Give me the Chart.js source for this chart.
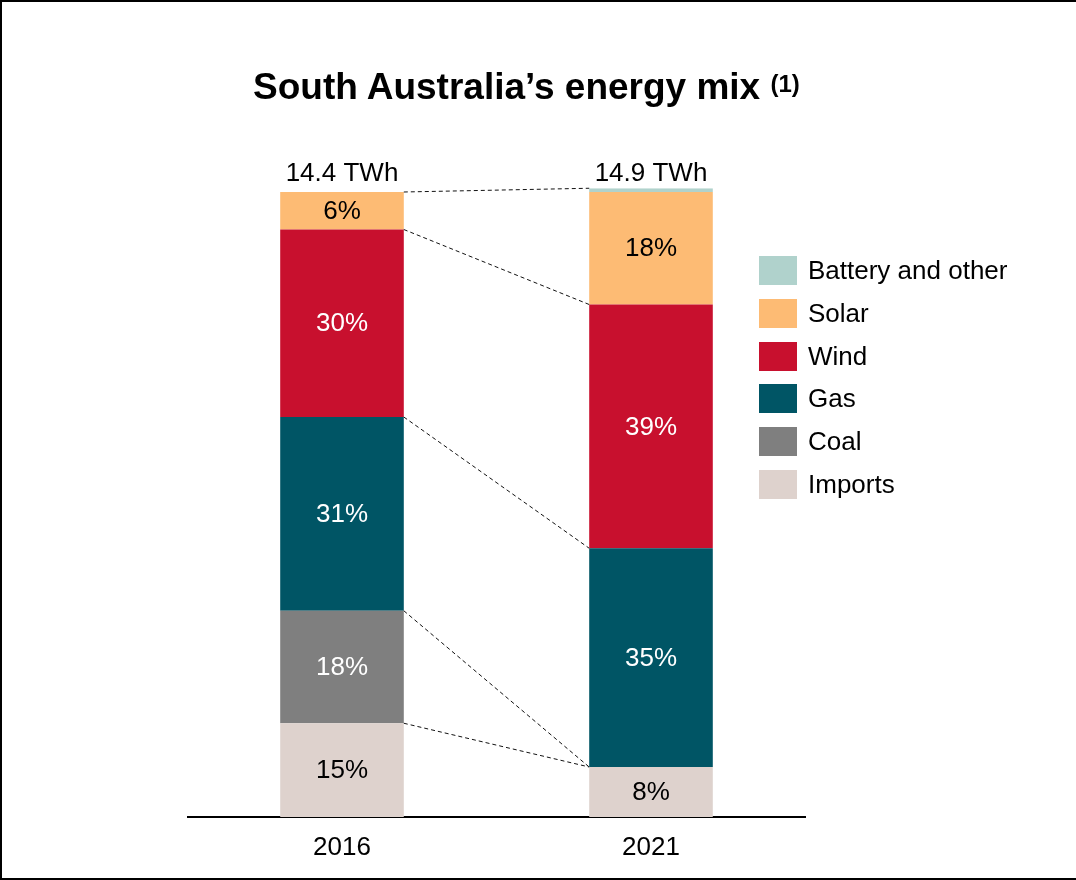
<!DOCTYPE html>
<html>
<head>
<meta charset="utf-8">
<title>South Australia's energy mix</title>
<script src="https://cdn.jsdelivr.net/npm/chart.js@4.4.1/dist/chart.umd.min.js"></script>
<style>
  html, body { margin: 0; padding: 0; background: #fff; }
  body { width: 1076px; height: 880px; position: relative; overflow: hidden;
         font-family: "Liberation Sans", Arial, sans-serif; color: #000; }
  #frame { position: absolute; left: 0; top: 0; width: 1076px; height: 880px; box-sizing: border-box;
           border-left: 2px solid #000; border-top: 2px solid #000; border-bottom: 2px solid #000;
           pointer-events: none; z-index: 3; }
  #chart { position: absolute; left: 0; top: 0; }
  #title { position: absolute; left: 253px; top: 69px; font-size: 37px; line-height: 36px;
           font-weight: bold; white-space: nowrap; z-index: 2; }
  #title sup { font-size: 24px; position: relative; top: -3px; vertical-align: top; }
  #legend { position: absolute; left: 759px; top: 256px; z-index: 2; }
  .item { display: flex; align-items: center; height: 29px; margin-bottom: 13.8px; }
  .swatch { width: 38px; height: 29px; flex: none; }
  .label { margin-left: 11px; font-size: 26px; line-height: 29px; white-space: nowrap; }
</style>
</head>
<body>
<canvas id="chart" width="1076" height="880"></canvas>
<div id="title">South Australia’s energy mix <sup>(1)</sup></div>
<div id="legend"></div>
<div id="frame"></div>
<script>
// Years and the total generation of each year (TWh)
const years = ['2016', '2021'];
const totalsTWh = [14.4, 14.9];

// Share of generation by source, percent (bottom of the stack first)
const imports = [15, 8];
const coal    = [18, 0];
const gas     = [31, 35];
const wind    = [30, 39];
const solar   = [6, 18];
const battery = [0, 0.6];

const sources = [
  { name: 'Imports',           values: imports, color: '#ded2cd', text: '#000' },
  { name: 'Coal',              values: coal,    color: '#7f7f7f', text: '#fff' },
  { name: 'Gas',               values: gas,     color: '#005565', text: '#fff' },
  { name: 'Wind',              values: wind,    color: '#c8102e', text: '#fff' },
  { name: 'Solar',             values: solar,   color: '#fdbb74', text: '#000' },
  { name: 'Battery and other', values: battery, color: '#b0d2cc', text: '#000' }
];

const FONT = '"Liberation Sans", Arial, sans-serif';

// Legend, top entry = top of the stack
const legendEl = document.getElementById('legend');
sources.slice().reverse().forEach(s => {
  const row = document.createElement('div');
  row.className = 'item';
  const sw = document.createElement('div');
  sw.className = 'swatch';
  sw.style.background = s.color;
  const lb = document.createElement('div');
  lb.className = 'label';
  lb.textContent = s.name;
  row.appendChild(sw);
  row.appendChild(lb);
  legendEl.appendChild(row);
});

// Percent labels inside segments, totals above bars, dashed links between bars
const annotate = {
  id: 'annotate',
  afterDatasetsDraw(chart) {
    const ctx = chart.ctx;
    const yScale = chart.scales.y;
    const metas = chart.data.datasets.map((d, i) => chart.getDatasetMeta(i));

    // dashed links between matching stack boundaries
    const n = chart.data.datasets.length;
    const cum = years.map((_, j) => {
      let acc = 0;
      return chart.data.datasets.map(d => (acc += d.data[j]));
    });
    const first = metas[0].data[0], second = metas[0].data[1];
    const x0 = first.x + first.width / 2;
    const x1 = second.x - second.width / 2;
    ctx.save();
    ctx.strokeStyle = '#111';
    ctx.lineWidth = 1;
    ctx.setLineDash([4, 3]);
    for (let i = 0; i < n; i++) {
      // keep only the highest dataset of each distinct boundary in the first bar
      if (i < n - 1 && Math.abs(cum[0][i + 1] - cum[0][i]) < 1e-9) continue;
      const ya = yScale.getPixelForValue(cum[0][i]);
      const yb = yScale.getPixelForValue(cum[1][i]);
      ctx.beginPath();
      ctx.moveTo(x0, ya);
      ctx.lineTo(x1, yb);
      ctx.stroke();
    }
    ctx.restore();

    // percent labels
    ctx.save();
    ctx.font = '26px ' + FONT;
    ctx.textAlign = 'center';
    ctx.textBaseline = 'middle';
    chart.data.datasets.forEach((d, i) => {
      metas[i].data.forEach((bar, j) => {
        const v = d.data[j];
        if (v < 3) return;
        ctx.fillStyle = sources[i].text;
        ctx.fillText(Math.round(v) + '%', bar.x, (bar.y + bar.base) / 2 + 1);
      });
    });

    // totals above each bar
    ctx.fillStyle = '#000';
    years.forEach((_, j) => {
      const top = yScale.getPixelForValue(100);
      ctx.fillText(totalsTWh[j].toFixed(1) + ' TWh', metas[0].data[j].x, top - 18);
    });
    ctx.restore();
  }
};

new Chart(document.getElementById('chart'), {
  type: 'bar',
  data: {
    labels: years,
    datasets: sources.map(s => ({
      label: s.name,
      data: s.values,
      backgroundColor: s.color,
      borderWidth: 0,
      barPercentage: 0.4,
      categoryPercentage: 1
    }))
  },
  options: {
    responsive: false,
    animation: false,
    events: [],
    layout: { padding: { left: 187.5, right: 270.5, top: 188.25, bottom: 0 } },
    plugins: {
      legend: { display: false },
      title: { display: false },
      tooltip: { enabled: false }
    },
    scales: {
      x: {
        stacked: true,
        grid: { display: false },
        border: { display: true, color: '#000', width: 2 },
        ticks: { color: '#000', font: { family: FONT, size: 26 }, padding: 7 },
        afterFit(scale) { scale.height = 63; }
      },
      y: {
        stacked: true,
        display: false,
        min: 0,
        max: 100.6
      }
    }
  },
  plugins: [annotate]
});
</script>
</body>
</html>
